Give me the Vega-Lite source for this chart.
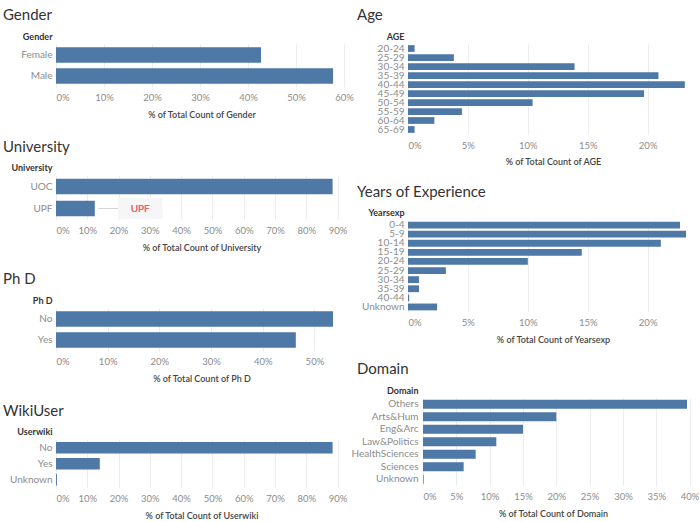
{
  "$schema": "https://vega.github.io/schema/vega-lite/v6.json",
  "padding": {"left": 3, "top": 8, "right": 2, "bottom": 2},
  "background": "white",
  "datasets": {
    "gender": [{"cat": "Female", "pct": 42.7}, {"cat": "Male", "pct": 57.7}],
    "univ": [{"cat": "UOC", "pct": 88.4}, {"cat": "UPF", "pct": 12.4}],
    "phd": [{"cat": "No", "pct": 53.6}, {"cat": "Yes", "pct": 46.4}],
    "wiki": [{"cat": "No", "pct": 88.4}, {"cat": "Yes", "pct": 14.0}, {"cat": "Unknown", "pct": 0.3}],
    "age": [
      {"cat": "20-24", "pct": 0.55}, {"cat": "25-29", "pct": 3.83}, {"cat": "30-34", "pct": 13.9},
      {"cat": "35-39", "pct": 20.9}, {"cat": "40-44", "pct": 23.1}, {"cat": "45-49", "pct": 19.7},
      {"cat": "50-54", "pct": 10.4}, {"cat": "55-59", "pct": 4.5}, {"cat": "60-64", "pct": 2.2},
      {"cat": "65-69", "pct": 0.55}
    ],
    "years": [
      {"cat": "0-4", "pct": 22.7}, {"cat": "5-9", "pct": 23.2}, {"cat": "10-14", "pct": 21.1},
      {"cat": "15-19", "pct": 14.5}, {"cat": "20-24", "pct": 10.0}, {"cat": "25-29", "pct": 3.16},
      {"cat": "30-34", "pct": 0.92}, {"cat": "35-39", "pct": 0.92}, {"cat": "40-44", "pct": 0.1},
      {"cat": "Unknown", "pct": 2.43}
    ],
    "domain": [
      {"cat": "Others", "pct": 39.6}, {"cat": "Arts&Hum", "pct": 20.0}, {"cat": "Eng&Arc", "pct": 15.0},
      {"cat": "Law&Politics", "pct": 11.0}, {"cat": "HealthSciences", "pct": 7.9}, {"cat": "Sciences", "pct": 6.1},
      {"cat": "Unknown", "pct": 0.1}
    ]
  },
  "spacing": -3,
  "align": "none",
  "hconcat": [
    {
      "align": "none",
      "spacing": 19.5,
      "vconcat": [
        {
          "title": {"text": "Gender", "dx": -53},
          "data": {"name": "gender"},
          "width": 291,
          "height": {"step": 21},
          "mark": {"type": "bar", "color": "#4e79a7"},
          "encoding": {
            "y": {"field": "cat", "type": "nominal", "sort": null, "title": "Gender",
                  "scale": {"paddingInner": 0.26, "paddingOuter": 0.15}},
            "x": {"field": "pct", "type": "quantitative", "title": "% of Total Count of Gender",
                  "scale": {"domain": [0, 60.6], "nice": false},
                  "axis": {"values": [0, 10, 20, 30, 40, 50, 60]}}
          }
        },
        {
          "title": {"text": "University", "dx": -53},
          "data": {"name": "univ"},
          "width": 291,
          "height": {"step": 22},
          "layer": [
            {
              "mark": {"type": "bar", "color": "#4e79a7"},
              "encoding": {
                "y": {"field": "cat", "type": "nominal", "sort": null, "title": "University",
                      "scale": {"paddingInner": 0.3, "paddingOuter": 0.15}},
                "x": {"field": "pct", "type": "quantitative", "title": "% of Total Count of University",
                      "scale": {"domain": [0, 93], "nice": false},
                      "axis": {"values": [0, 10, 20, 30, 40, 50, 60, 70, 80, 90], "labelOverlap": false}}
              }
            },
            {
              "mark": {"type": "bar", "color": "#f6f6f6", "height": {"band": 1.35}},
              "encoding": {
                "y": {"datum": "UPF", "type": "nominal"},
                "x": {"datum": 19.8, "type": "quantitative",
                      "axis": {"values": [0, 10, 20, 30, 40, 50, 60, 70, 80, 90], "labelOverlap": false}},
                "x2": {"datum": 34.0}
              }
            },
            {
              "mark": {"type": "rule", "color": "#d4d4d4", "strokeWidth": 1},
              "encoding": {
                "y": {"datum": "UPF", "type": "nominal", "bandPosition": 0.5},
                "x": {"datum": 13.6, "type": "quantitative",
                      "axis": {"values": [0, 10, 20, 30, 40, 50, 60, 70, 80, 90], "labelOverlap": false}},
                "x2": {"datum": 19.8}
              }
            },
            {
              "mark": {"type": "text", "color": "#e8636a", "fontSize": 10, "font": "Lato", "text": "UPF"},
              "encoding": {
                "y": {"datum": "UPF", "type": "nominal"},
                "x": {"datum": 26.9, "type": "quantitative",
                      "axis": {"values": [0, 10, 20, 30, 40, 50, 60, 70, 80, 90], "labelOverlap": false}}
              }
            }
          ]
        },
        {
          "title": {"text": "Ph D", "dx": -53},
          "data": {"name": "phd"},
          "width": 291,
          "height": {"step": 21},
          "mark": {"type": "bar", "color": "#4e79a7"},
          "encoding": {
            "y": {"field": "cat", "type": "nominal", "sort": null, "title": "Ph D",
                  "scale": {"paddingInner": 0.26, "paddingOuter": 0.15}},
            "x": {"field": "pct", "type": "quantitative", "title": "% of Total Count of Ph D",
                  "scale": {"domain": [0, 56.3], "nice": false},
                  "axis": {"values": [0, 10, 20, 30, 40, 50]}}
          }
        },
        {
          "title": {"text": "WikiUser", "dx": -53},
          "data": {"name": "wiki"},
          "width": 291,
          "height": {"step": 16},
          "mark": {"type": "bar", "color": "#4e79a7"},
          "encoding": {
            "y": {"field": "cat", "type": "nominal", "sort": null, "title": "Userwiki",
                  "scale": {"paddingInner": 0.28, "paddingOuter": 0.15}},
            "x": {"field": "pct", "type": "quantitative", "title": "% of Total Count of Userwiki",
                  "scale": {"domain": [0, 93], "nice": false},
                  "axis": {"values": [0, 10, 20, 30, 40, 50, 60, 70, 80, 90]}}
          }
        }
      ]
    },
    {
      "align": "none",
      "spacing": 17.5,
      "vconcat": [
        {
          "title": {"text": "Age", "dx": -51},
          "data": {"name": "age"},
          "width": 290,
          "height": {"step": 9},
          "mark": {"type": "bar", "color": "#4e79a7"},
          "encoding": {
            "y": {"field": "cat", "type": "nominal", "sort": null, "title": "AGE",
                  "scale": {"paddingInner": 0.25, "paddingOuter": 0.125}},
            "x": {"field": "pct", "type": "quantitative", "title": "% of Total Count of AGE",
                  "scale": {"domain": [0, 24.2], "nice": false},
                  "axis": {"values": [0, 5, 10, 15, 20]}}
          }
        },
        {
          "title": {"text": "Years of Experience", "dx": -51},
          "data": {"name": "years"},
          "width": 290,
          "height": {"step": 9.1},
          "mark": {"type": "bar", "color": "#4e79a7"},
          "encoding": {
            "y": {"field": "cat", "type": "nominal", "sort": null, "title": "Yearsexp",
                  "scale": {"paddingInner": 0.25, "paddingOuter": 0.125}},
            "x": {"field": "pct", "type": "quantitative", "title": "% of Total Count of Yearsexp",
                  "scale": {"domain": [0, 24.2], "nice": false},
                  "axis": {"values": [0, 5, 10, 15, 20]}}
          }
        },
        {
          "title": {"text": "Domain", "dx": -51},
          "data": {"name": "domain"},
          "width": 290,
          "height": {"step": 12.5},
          "mark": {"type": "bar", "color": "#4e79a7"},
          "encoding": {
            "y": {"field": "cat", "type": "nominal", "sort": null, "title": "Domain",
                  "scale": {"paddingInner": 0.28, "paddingOuter": 0.14},
                  "axis": {"labelPadding": -10, "titleX": 10}},
            "x": {"field": "pct", "type": "quantitative", "title": "% of Total Count of Domain",
                  "scale": {"domain": [-2.25, 41.25], "nice": false, "zero": false},
                  "axis": {"values": [0, 5, 10, 15, 20, 25, 30, 35, 40],
                           "labelAlign": {"condition": {"test": "datum.value === 0", "value": "left"}, "value": "center"}}}
          }
        }
      ]
    }
  ],
  "config": {
    "view": {"stroke": null},
    "font": "Lato",
    "title": {"anchor": "start", "frame": "group", "fontSize": 15, "fontWeight": "normal", "color": "#333333", "font": "Lato", "offset": 9},
    "axisX": {
      "grid": true, "gridColor": "#ececec", "domain": false, "ticks": false,
      "labelExpr": "datum.value + '%'", "labelFlush": true, "labelOverlap": false, "labelColor": "#8c8c8c", "labelFontSize": 9.5, "labelPadding": 6,
      "titleFontSize": 9, "titleFontWeight": 600, "titleColor": "#444444", "titlePadding": 8
    },
    "axisY": {
      "grid": false, "domain": false, "ticks": false, "labelColor": "#8c8c8c", "labelFontSize": 10, "labelPadding": 4,
      "titleAngle": 0, "titleAlign": "right", "titleBaseline": "bottom", "titleX": -4, "titleY": -3,
      "titleFontSize": 9, "titleFontWeight": "bold", "titleColor": "#333333"
    }
  }
}
